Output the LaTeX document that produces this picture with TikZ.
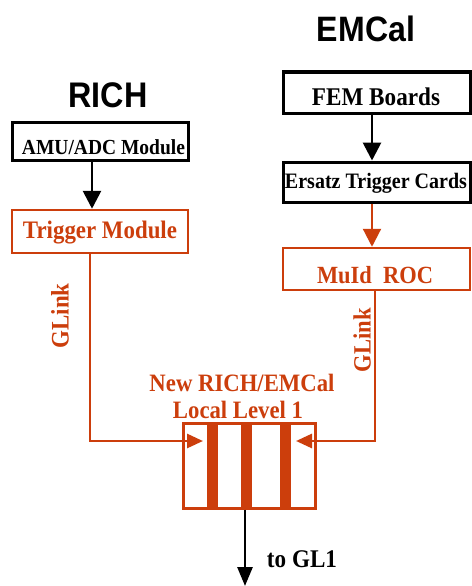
\documentclass[tikz,border=0pt]{standalone}
\usepackage{fontspec}
\setmainfont{Liberation Serif}
\setsansfont{Liberation Sans}
\usetikzlibrary{arrows.meta}
\definecolor{rorange}{RGB}{204,62,12}
\newcommand\fw[2]{\scalebox{1}[1.1]{\resizebox{#1pt}{!}{#2}}}
\begin{document}
\begin{tikzpicture}[x=1pt,y=-1pt,
  blackbox/.style={draw=black,line width=3pt,minimum width=176pt,inner sep=0pt},
  orbox/.style={draw=rorange,line width=2.5pt,inner sep=0pt},
  lbl/.style={inner sep=0pt,font=\bfseries},
  olbl/.style={inner sep=0pt,font=\bfseries,text=rorange},
  title/.style={inner sep=0pt,font=\sffamily\bfseries},
  blarrow/.style={draw=black,line width=2.8pt,-{Triangle[length=18pt,width=18pt]}},
  orarrow/.style={draw=rorange,line width=2.2pt,-{Triangle[length=18pt,width=18pt]}},
  orline/.style={draw=rorange,line width=2.8pt,-{Triangle[length=16pt,width=14pt]}},
  bar/.style={fill=rorange,draw=none}]
\useasboundingbox (0,0) rectangle (471,586);
\fill[white] (0,0) rectangle (471,586);

% titles
\node[title] (richt) at (108,95) {\fw{79}{RICH}};
\node[title] (emct) at (366,29) {\fw{98}{EMCal}};

% RICH chain
\node[blackbox,minimum width=176pt,minimum height=38pt] (amu) at (100,141) {};
\node[lbl] (amut) at (103.5,147) {\fw{163}{AMU/ADC Module}};
\node[orbox,minimum width=176pt,minimum height=43pt] (trig) at (100,231.5) {};
\node[olbl] (trigt) at (100,232.5) {\fw{154}{Trigger Module}};

% EMCal chain
\node[blackbox,minimum width=187pt,minimum height=41pt] (fem) at (376.5,92.5) {};
\node[lbl] (femt) at (376,97) {\fw{128}{FEM Boards}};
\node[blackbox,minimum width=187pt,minimum height=40pt] (ers) at (376.5,182) {};
\node[lbl] (erst) at (376,183) {\fw{182}{Ersatz Trigger Cards}};
\node[orbox,minimum width=187pt,minimum height=42pt] (muid) at (376.5,269) {};
\node[olbl] (muidt) at (375,275.5) {\fw{116}{MuId\ \ ROC}};

% LL1
\node[olbl] (new) at (242,383) {\fw{185}{New RICH/EMCal}};
\node[olbl] (loc) at (238,410) {\fw{130}{Local Level 1}};
\node[orbox,line width=3pt,minimum width=132pt,minimum height=85pt] (ll1) at (249,465.5) {};
\fill[bar] (207,423) rectangle (218,508);
\fill[bar] (241,423) rectangle (252,508);
\fill[bar] (280,423) rectangle (291,508);

% GLink labels
\node[olbl,rotate=90] (gl1) at (60,316) {\fw{65}{GLink}};
\node[olbl,rotate=90] (gl2) at (362,340) {\fw{64}{GLink}};

% connectors
\draw[blarrow] ([xshift=-8pt]amu.south) -- ([xshift=-8pt]trig.north);
\draw[blarrow] ([xshift=-4.5pt]fem.south) -- ([xshift=-4.5pt]ers.north);
\draw[orarrow] ([xshift=-4.5pt]ers.south) -- ([xshift=-4.5pt]muid.north);

\coordinate (inL) at (203,441);
\coordinate (inR) at (296,441);
\draw[orline] ([xshift=-10pt]trig.south) |- (inL);
\draw[orline] ([xshift=-1.5pt]muid.south) |- (inR);

\coordinate (outE) at (245,586);
\draw[blarrow,-{Triangle[length=19pt,width=15pt]}] ([xshift=-4pt]ll1.south) -- (outE);
\node[lbl] (togl) at (302,559) {\fw{70}{to GL1}};
\end{tikzpicture}
\end{document}
